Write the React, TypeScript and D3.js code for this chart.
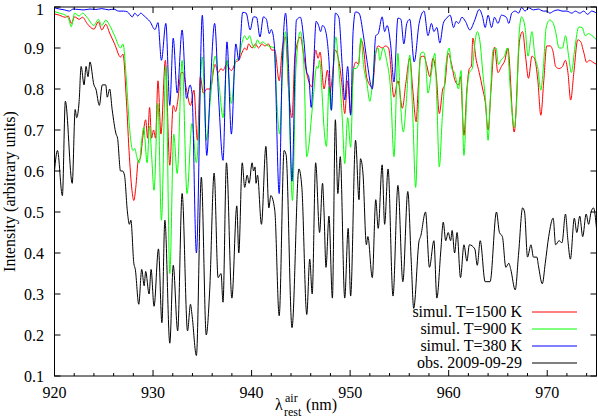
import * as d3 from 'd3'

// wavelength (nm), intensity — at local maxima / minima
const obs: [number, number][] = [
  [920.0, 0.60], [920.3, 0.65], [920.8, 0.54], [921.1, 0.77], [921.8, 0.57], [922.1, 0.75], [922.25, 0.73],
  [922.5, 0.77], [922.7, 0.855], [923.0, 0.81], [923.2, 0.855], [923.4, 0.83], [923.6, 0.866], [924.0, 0.81],
  [924.2, 0.80], [924.55, 0.76], [924.85, 0.81], [925.2, 0.81], [925.35, 0.78], [925.6, 0.80], [925.85, 0.75],
  [926.25, 0.69], [926.4, 0.68], [926.7, 0.60], [926.9, 0.60], [927.1, 0.59], [927.4, 0.50], [927.6, 0.47],
  [927.75, 0.48], [928.05, 0.375], [928.2, 0.36], [928.55, 0.275], [928.85, 0.36], [929.1, 0.32], [929.25, 0.355],
  [929.6, 0.30], [929.8, 0.36], [930.1, 0.27], [930.55, 0.41], [930.9, 0.23], [931.2, 0.48], [931.7, 0.18],
  [932.05, 0.37], [932.5, 0.21], [932.95, 0.545], [933.5, 0.21], [933.8, 0.275], [933.95, 0.25], [934.4, 0.15],
  [934.9, 0.585], [935.4, 0.20], [935.75, 0.31], [936.2, 0.595], [936.6, 0.34], [936.9, 0.35], [937.1, 0.28],
  [937.45, 0.62], [938.0, 0.29], [938.5, 0.515], [938.7, 0.40], [939.05, 0.62], [939.3, 0.56], [939.55, 0.59],
  [939.75, 0.57], [940.05, 0.62], [940.2, 0.60], [940.35, 0.61], [940.45, 0.57], [940.6, 0.59], [941.0, 0.47],
  [941.45, 0.66], [941.75, 0.51], [941.95, 0.54], [942.35, 0.505], [942.8, 0.247], [943.3, 0.65], [943.5, 0.64],
  [944.1, 0.218], [944.8, 0.605], [945.1, 0.56], [945.6, 0.25], [945.9, 0.385], [946.15, 0.30], [946.5, 0.62],
  [946.9, 0.45], [947.2, 0.57], [947.35, 0.50], [947.55, 0.365], [947.85, 0.49], [948.2, 0.29], [948.5, 0.725],
  [948.75, 0.545], [949.0, 0.635], [949.45, 0.29], [949.8, 0.46], [950.05, 0.295], [950.55, 0.675], [950.9, 0.53],
  [951.05, 0.63], [951.3, 0.595], [951.65, 0.42], [951.8, 0.44], [952.25, 0.34], [952.6, 0.53], [952.85, 0.46],
  [953.25, 0.615], [953.5, 0.47], [953.85, 0.605], [954.35, 0.295], [954.85, 0.565], [955.35, 0.33], [955.85, 0.55],
  [956.2, 0.38], [956.45, 0.265], [957.0, 0.43], [957.15, 0.44], [957.65, 0.50], [958.05, 0.365], [958.5, 0.43],
  [958.8, 0.29], [959.2, 0.405], [959.45, 0.475], [959.7, 0.43], [959.95, 0.45], [960.2, 0.43], [960.35, 0.455],
  [960.6, 0.40], [960.85, 0.45], [961.2, 0.34], [961.55, 0.42], [961.85, 0.38], [962.1, 0.42], [962.65, 0.41],
  [962.9, 0.37], [963.2, 0.43], [963.7, 0.33], [964.2, 0.33], [964.85, 0.50], [965.15, 0.45], [965.45, 0.44],
  [965.8, 0.365], [966.1, 0.375], [966.3, 0.36], [966.75, 0.31], [967.1, 0.40], [967.5, 0.51], [967.7, 0.50],
  [968.0, 0.39], [968.35, 0.42], [968.6, 0.39], [968.95, 0.39], [969.1, 0.37], [969.5, 0.325], [969.8, 0.375],
  [970.15, 0.44], [970.6, 0.485], [970.85, 0.42], [971.2, 0.43], [971.5, 0.425], [971.85, 0.495], [972.1, 0.43],
  [972.35, 0.385], [972.75, 0.485], [973.0, 0.45], [973.3, 0.49], [973.6, 0.44], [973.95, 0.495], [974.2, 0.47],
  [974.45, 0.50], [974.7, 0.51], [975.0, 0.46],
]

const sim1500: [number, number][] = [
  [920.0, 0.983], [920.5, 0.98], [921.1, 0.975], [921.4, 0.978], [921.7, 0.96], [922.05, 0.976], [922.5, 0.97],
  [922.85, 0.975], [923.3, 0.96], [924.0, 0.946], [924.45, 0.964], [924.8, 0.944], [925.2, 0.958], [925.6, 0.936],
  [926.1, 0.91], [926.7, 0.878], [926.95, 0.885], [927.3, 0.77], [927.6, 0.635], [927.9, 0.545], [928.05, 0.528],
  [928.25, 0.56], [928.5, 0.625], [928.7, 0.63], [928.95, 0.68], [929.25, 0.725], [929.45, 0.68], [929.65, 0.755],
  [929.85, 0.68], [930.05, 0.70], [930.25, 0.68], [930.5, 0.82], [930.8, 0.69], [931.25, 0.87], [931.7, 0.614],
  [932.05, 0.76], [932.3, 0.745], [932.5, 0.77], [932.85, 0.84], [933.05, 0.84], [933.4, 0.797], [933.8, 0.76],
  [934.15, 0.797], [934.5, 0.675], [934.8, 0.83], [935.1, 0.79], [935.45, 0.80], [935.8, 0.80], [936.3, 0.86],
  [936.6, 0.84], [936.9, 0.85], [937.1, 0.845], [937.45, 0.86], [937.95, 0.845], [938.4, 0.866], [938.7, 0.87],
  [939.05, 0.89], [939.3, 0.90], [939.5, 0.895], [939.7, 0.91], [940.05, 0.90], [940.4, 0.91], [940.7, 0.90],
  [941.05, 0.91], [941.35, 0.905], [941.7, 0.91], [942.05, 0.895], [942.35, 0.895], [942.8, 0.82], [943.1, 0.895],
  [943.45, 0.927], [943.75, 0.80], [944.1, 0.73], [944.4, 0.88], [944.95, 0.927], [945.3, 0.88], [945.6, 0.838],
  [945.85, 0.815], [946.1, 0.805], [946.5, 0.895], [946.75, 0.875], [946.95, 0.89], [947.35, 0.80], [947.7, 0.846],
  [947.95, 0.79], [948.1, 0.81], [948.5, 0.895], [948.8, 0.875], [949.2, 0.805], [949.45, 0.74], [949.75, 0.82],
  [950.05, 0.74], [950.35, 0.85], [950.6, 0.866], [950.85, 0.86], [951.1, 0.92], [951.35, 0.90], [951.7, 0.826],
  [952.25, 0.805], [952.6, 0.887], [952.85, 0.905], [953.25, 0.90], [953.6, 0.905], [953.9, 0.90], [954.45, 0.78],
  [954.85, 0.82], [955.3, 0.753], [955.65, 0.814], [956.05, 0.875], [956.35, 0.80], [956.7, 0.72], [956.9, 0.80],
  [957.15, 0.878], [957.5, 0.88], [957.75, 0.86], [958.1, 0.83], [958.4, 0.875], [958.75, 0.83], [959.05, 0.74],
  [959.4, 0.80], [959.6, 0.81], [959.95, 0.887], [960.3, 0.86], [960.65, 0.82], [961.0, 0.81], [961.2, 0.83],
  [961.55, 0.687], [961.85, 0.80], [962.1, 0.85], [962.3, 0.855], [962.45, 0.924], [962.8, 0.87], [963.1, 0.84],
  [963.45, 0.80], [963.7, 0.77], [964.0, 0.70], [964.3, 0.80], [964.65, 0.902], [965.0, 0.84], [965.35, 0.855],
  [965.7, 0.87], [966.0, 0.90], [966.65, 0.695], [967.2, 0.92], [967.5, 0.94], [967.8, 0.88], [968.1, 0.826],
  [968.45, 0.88], [968.7, 0.875], [969.05, 0.82], [969.35, 0.736], [969.65, 0.82], [969.95, 0.905], [970.3, 0.905],
  [970.6, 0.89], [970.85, 0.855], [971.2, 0.85], [971.55, 0.855], [971.85, 0.87], [972.1, 0.84], [972.38, 0.773],
  [972.7, 0.84], [973.1, 0.92], [973.4, 0.915], [973.7, 0.89], [974.0, 0.865], [974.3, 0.87], [974.65, 0.865],
  [975.0, 0.86],
]

const sim900: [number, number][] = [
  [920.0, 0.989], [920.5, 0.985], [921.1, 0.98], [921.45, 0.97], [921.7, 0.952], [922.05, 0.985], [922.5, 0.978],
  [922.85, 0.985], [923.3, 0.975], [924.0, 0.955], [924.45, 0.97], [924.8, 0.955], [925.2, 0.968], [925.6, 0.955],
  [926.1, 0.93], [926.7, 0.90], [926.95, 0.91], [927.3, 0.82], [927.6, 0.71], [927.95, 0.65], [928.15, 0.655],
  [928.35, 0.635], [928.6, 0.62], [928.85, 0.675], [929.05, 0.706], [929.4, 0.62], [929.65, 0.71], [929.85, 0.64],
  [930.1, 0.553], [930.5, 0.765], [930.85, 0.48], [931.3, 0.855], [931.7, 0.35], [932.1, 0.69], [932.45, 0.594],
  [932.95, 0.87], [933.45, 0.545], [933.95, 0.716], [934.4, 0.62], [935.0, 0.878], [935.4, 0.675], [935.8, 0.77],
  [936.3, 0.88], [936.7, 0.81], [937.1, 0.73], [937.5, 0.87], [937.95, 0.765], [938.4, 0.87], [938.7, 0.875],
  [939.0, 0.91], [939.3, 0.93], [939.55, 0.92], [939.8, 0.93], [940.05, 0.91], [940.3, 0.90], [940.6, 0.92],
  [940.85, 0.91], [941.1, 0.915], [941.4, 0.91], [941.7, 0.905], [942.3, 0.90], [942.55, 0.773], [942.85, 0.69],
  [943.15, 0.85], [943.45, 0.94], [943.75, 0.80], [944.15, 0.528], [944.5, 0.85], [944.95, 0.94], [945.3, 0.86],
  [945.6, 0.635], [945.8, 0.66], [946.05, 0.724], [946.3, 0.79], [946.6, 0.855], [946.75, 0.85], [946.9, 0.87],
  [947.15, 0.79], [947.35, 0.706], [947.6, 0.66], [947.85, 0.805], [948.05, 0.75], [948.3, 0.85], [948.55, 0.927],
  [948.85, 0.85], [949.2, 0.73], [949.45, 0.618], [949.75, 0.73], [950.05, 0.658], [950.35, 0.85], [950.6, 0.85],
  [950.85, 0.86], [951.1, 0.924], [951.35, 0.86], [951.7, 0.814], [952.0, 0.77], [952.25, 0.81], [952.6, 0.89],
  [952.85, 0.90], [953.0, 0.87], [953.35, 0.90], [953.7, 0.87], [954.1, 0.80], [954.45, 0.635], [954.85, 0.887],
  [955.1, 0.77], [955.4, 0.695], [955.7, 0.77], [956.05, 0.883], [956.35, 0.74], [956.65, 0.56], [956.9, 0.74],
  [957.15, 0.887], [957.45, 0.89], [957.65, 0.87], [957.9, 0.79], [958.25, 0.84], [958.6, 0.887], [958.8, 0.77],
  [959.05, 0.61], [959.35, 0.73], [959.8, 0.875], [960.05, 0.90], [960.3, 0.85], [960.6, 0.84], [961.0, 0.80],
  [961.25, 0.845], [961.55, 0.638], [961.85, 0.79], [962.1, 0.84], [962.4, 0.85], [962.65, 0.91], [962.9, 0.94],
  [963.15, 0.92], [963.5, 0.83], [963.75, 0.77], [964.0, 0.675], [964.25, 0.79], [964.5, 0.895], [964.8, 0.90],
  [965.05, 0.86], [965.3, 0.87], [965.65, 0.88], [965.95, 0.90], [966.25, 0.80], [966.65, 0.706], [966.9, 0.77],
  [967.15, 0.935], [967.4, 0.976], [967.75, 0.95], [968.05, 0.88], [968.45, 0.94], [968.75, 0.88], [969.05, 0.85],
  [969.35, 0.797], [969.6, 0.85], [969.9, 0.951], [970.25, 0.968], [970.55, 0.963], [970.85, 0.94], [971.2, 0.90],
  [971.55, 0.90], [971.85, 0.93], [972.2, 0.875], [972.45, 0.84], [972.8, 0.90], [973.2, 0.951], [973.55, 0.95],
  [973.85, 0.93], [974.2, 0.935], [974.55, 0.93], [975.0, 0.92],
]

const sim380: [number, number][] = [
  [920.0, 0.998], [920.5, 0.995], [921.0, 0.993], [921.5, 0.99], [921.9, 0.995], [922.4, 0.994], [923.0, 0.993],
  [923.6, 0.995], [924.2, 0.994], [924.8, 0.996], [925.5, 0.993], [926.0, 0.995], [926.5, 0.99], [927.0, 0.99],
  [927.4, 0.988], [927.9, 0.976], [928.15, 0.985], [928.45, 0.978], [928.75, 0.985], [929.1, 0.978], [929.7, 0.964],
  [930.2, 0.945], [930.5, 0.962], [930.85, 0.87], [931.3, 0.96], [931.7, 0.76], [932.05, 0.924], [932.45, 0.79],
  [932.95, 0.944], [933.4, 0.777], [933.75, 0.81], [933.95, 0.79], [934.4, 0.40], [935.0, 0.98], [935.45, 0.638],
  [935.8, 0.80], [936.25, 0.96], [936.65, 0.78], [937.1, 0.626], [937.5, 0.915], [937.95, 0.69], [938.4, 0.91],
  [938.7, 0.87], [939.1, 0.987], [939.45, 0.985], [939.85, 0.944], [940.2, 0.976], [940.5, 0.975], [940.85, 0.927],
  [941.2, 0.976], [941.5, 0.97], [941.8, 0.935], [942.0, 0.945], [942.3, 0.91], [942.8, 0.545], [943.1, 0.85],
  [943.45, 0.985], [943.75, 0.85], [944.1, 0.575], [944.55, 0.968], [944.95, 0.975], [945.3, 0.92], [945.6, 0.84],
  [945.8, 0.83], [946.05, 0.755], [946.3, 0.86], [946.55, 0.965], [946.8, 0.955], [947.0, 0.94], [947.2, 0.955],
  [947.4, 0.95], [947.85, 0.87], [948.1, 0.748], [948.3, 0.85], [948.5, 0.985], [948.85, 0.975], [949.2, 0.855],
  [949.45, 0.773], [949.75, 0.855], [950.05, 0.736], [950.3, 0.94], [950.55, 0.988], [950.9, 0.985], [951.35, 0.93],
  [951.7, 0.87], [952.25, 0.80], [952.6, 0.93], [952.85, 0.935], [953.25, 0.976], [953.5, 0.94], [953.75, 0.955],
  [954.1, 0.91], [954.45, 0.817], [954.85, 0.973], [955.15, 0.97], [955.45, 0.91], [955.75, 0.96], [956.05, 0.97],
  [956.5, 0.866], [957.0, 0.96], [957.5, 0.99], [957.9, 0.93], [958.25, 0.96], [958.5, 0.94], [958.8, 0.95],
  [959.1, 0.912], [959.45, 0.96], [959.8, 0.973], [960.15, 0.98], [960.5, 0.95], [960.75, 0.965], [961.0, 0.96],
  [961.35, 0.975], [961.7, 0.965], [962.15, 0.944], [962.6, 0.965], [963.1, 0.994], [963.45, 0.975], [963.7, 0.95],
  [964.0, 0.98], [964.35, 0.95], [964.65, 0.975], [965.0, 0.96], [965.35, 0.98], [965.85, 0.975], [966.1, 0.96],
  [966.4, 0.985], [966.75, 0.99], [967.1, 0.985], [967.4, 0.999], [967.75, 0.99], [968.1, 0.998], [968.6, 0.993],
  [969.1, 0.995], [969.6, 0.99], [970.0, 0.99], [970.25, 0.985], [970.65, 0.99], [971.1, 0.993], [971.5, 0.99],
  [972.0, 0.99], [972.5, 0.985], [972.85, 0.99], [973.3, 0.985], [973.7, 0.99], [974.1, 0.982], [974.5, 0.99],
  [975.0, 0.985],
]

const xTicks = [920, 930, 940, 950, 960, 970]
const yTicks = [0.1, 0.2, 0.3, 0.4, 0.5, 0.6, 0.7, 0.8, 0.9, 1]

const series = [
  { label: 'simul. T=1500 K', color: '#ff0000', data: sim1500 },
  { label: 'simul. T=900 K', color: '#00ff00', data: sim900 },
  { label: 'simul. T=380 K', color: '#0000ff', data: sim380 },
  { label: 'obs. 2009-09-29', color: '#000000', data: obs },
]

const W = 598
const H = 419
const font = '"Liberation Serif", "Times New Roman", serif'

export default function App() {
  const x = d3.scaleLinear().domain([920, 975]).range([54.5, 596.5])
  const y = d3.scaleLinear().domain([0.1, 1]).range([376, 7])

  const line = d3.line<[number, number]>()
    .x(d => x(d[0]))
    .y(d => y(d[1]))
    .curve(d3.curveMonotoneX)

  const minor = d3.range(920, 976, 2).filter(v => v % 10 !== 0)
  const [x0, x1] = x.range()
  const [y0, y1] = y.range()

  return (
    <svg width={W} height={H} style={{ position: 'absolute', left: 0, top: 0, background: '#fff' }}
      fontFamily={font} fontSize={16}>
      {/* curves */}
      <g fill="none" strokeWidth={1}>
        {series.map(s => (
          <path key={s.label} d={line(s.data) || ''} stroke={s.color} />
        ))}
      </g>

      {/* frame + ticks (mirrored, inward like gnuplot) */}
      <rect x={x0} y={y1} width={x1 - x0} height={y0 - y1} fill="none" stroke="#000" />
      <g stroke="#000">
        {xTicks.map(t => (
          <g key={'x' + t}>
            <line x1={x(t)} x2={x(t)} y1={y0} y2={y0 - 6} />
            <line x1={x(t)} x2={x(t)} y1={y1} y2={y1 + 6} />
          </g>
        ))}
        {minor.map(t => (
          <g key={'m' + t}>
            <line x1={x(t)} x2={x(t)} y1={y0} y2={y0 - 3} />
            <line x1={x(t)} x2={x(t)} y1={y1} y2={y1 + 3} />
          </g>
        ))}
        {yTicks.map(t => (
          <g key={'y' + t}>
            <line x1={x0} x2={x0 + 6} y1={y(t)} y2={y(t)} />
            <line x1={x1} x2={x1 - 6} y1={y(t)} y2={y(t)} />
          </g>
        ))}
      </g>

      {xTicks.map(t => (
        <text key={'xl' + t} x={x(t)} y={398} textAnchor="middle">{t}</text>
      ))}
      {yTicks.map(t => (
        <text key={'yl' + t} x={44} y={Math.max(y(t), 9)} dy="0.35em" textAnchor="end">{String(t)}</text>
      ))}

      {/* axis titles */}
      <text transform={`translate(15,${(y0 + y1) / 2}) rotate(-90)`} textAnchor="middle">
        Intensity (arbitrary units)
      </text>
      <text x={275} y={410}>λ</text>
      <text x={285} y={402} fontSize={12}>air</text>
      <text x={284} y={416} fontSize={12}>rest</text>
      <text x={306} y={410}>(nm)</text>

      {/* legend */}
      {series.map((s, i) => (
        <g key={'lg' + s.label}>
          <text x={522} y={317 + i * 17} textAnchor="end">{s.label}</text>
          <line x1={532} x2={577} y1={312 + i * 17} y2={312 + i * 17} stroke={s.color} />
        </g>
      ))}
    </svg>
  )
}
